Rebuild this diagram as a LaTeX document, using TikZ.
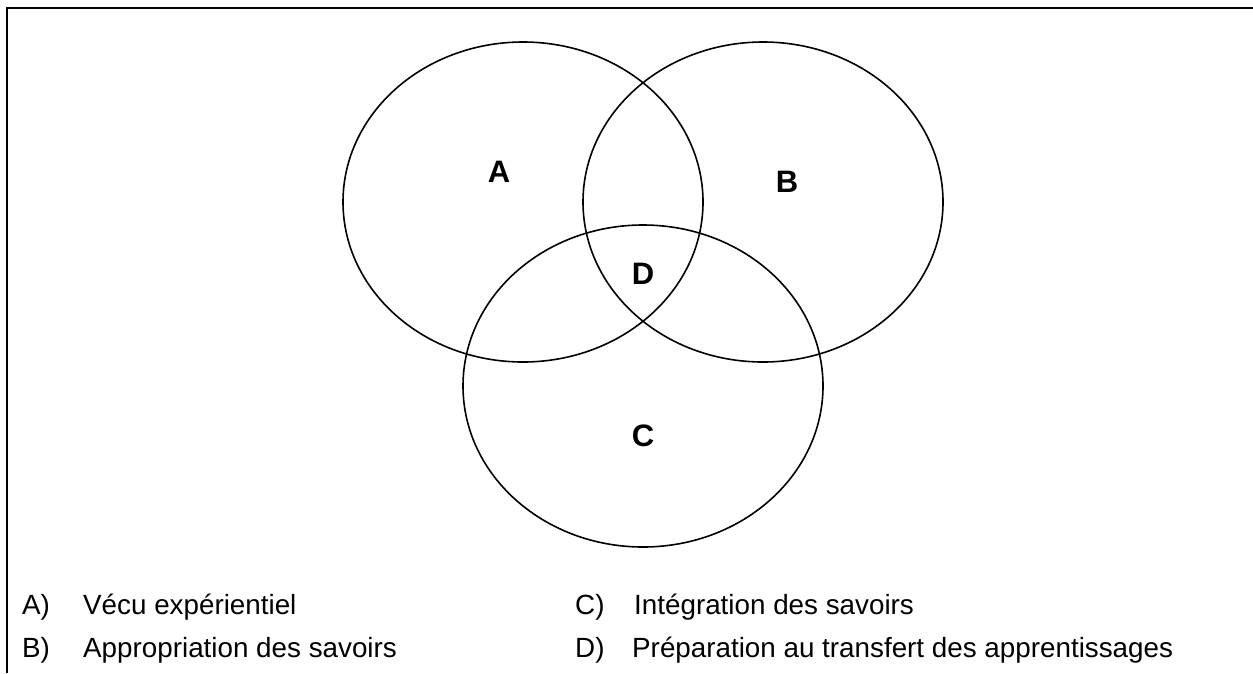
\documentclass[tikz,border=0pt]{standalone}
\usepackage{fontspec}
\setmainfont{Liberation Sans}
\usetikzlibrary{shapes.geometric}
\begin{document}
\begin{tikzpicture}[x=1pt,y=-1pt,
  frameline/.style={line width=2pt},
  setring/.style={draw,ellipse,line width=1.6pt,inner sep=0pt,
    minimum width=360pt,minimum height=320pt},
  setlabel/.style={font=\fontsize{31}{31}\selectfont\bfseries,inner sep=0pt},
  legendkey/.style={font=\fontsize{27.8}{30}\selectfont,anchor=base west,inner sep=0pt},
  legendtext/.style={font=\fontsize{27.8}{30}\selectfont,anchor=base west,inner sep=0pt}]
\useasboundingbox (0,0) rectangle (1253,673);
% open frame: top and left edges only
\coordinate (frameTR) at (1253,7.7);
\coordinate (frameTL) at (6.7,7.7);
\coordinate (frameBL) at (6.7,673);
\draw[frameline] (frameTR) -- (frameTL) -- (frameBL);
% the three overlapping sets
\node[setring] (setA) at (523,202) {};
\node[setring] (setB) at (763,202) {};
\node[setring,minimum height=322pt] (setC) at (643,386) {};
% region letters
\node[setlabel] (lblA) at (499,172) {A};
\node[setlabel] (lblB) at (787,182) {B};
\node[setlabel] (lblD) at (643,274) {D};
\node[setlabel] (lblC) at (643,436) {C};
% legend
\node[legendkey]  (keyA) at (22,614) {A)};
\node[legendtext] (txtA) at (83,614) {Vécu expérientiel};
\node[legendkey]  (keyB) at (22,657) {B)};
\node[legendtext] (txtB) at (83,657) {Appropriation des savoirs};
\node[legendkey]  (keyC) at (575,614) {C)};
\node[legendtext] (txtC) at (634,614) {Intégration des savoirs};
\node[legendkey]  (keyD) at (575,657) {D)};
\node[legendtext] (txtD) at (632,657) {Préparation au transfert des apprentissages};
\end{tikzpicture}
\end{document}
